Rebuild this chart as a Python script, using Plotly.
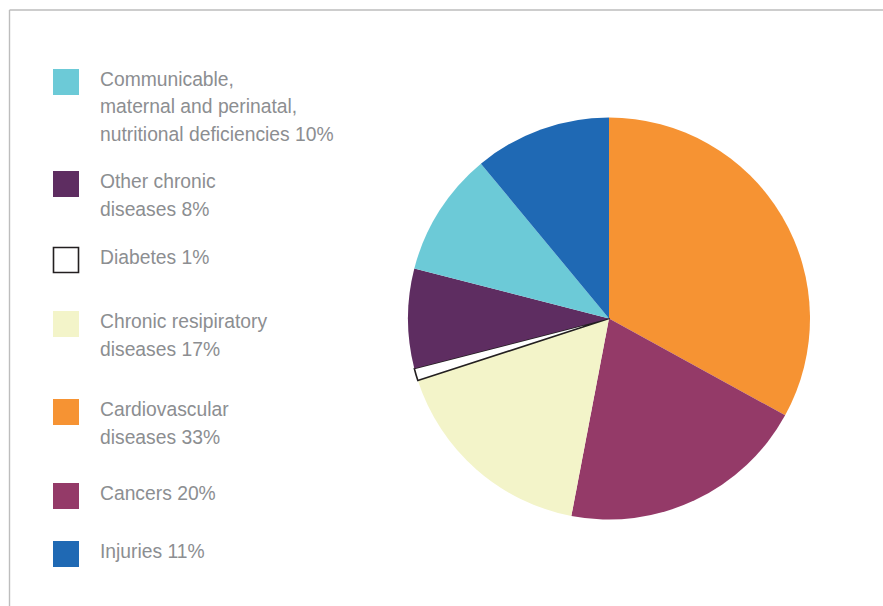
import plotly.graph_objects as go

# ---- data ----
categories = ["Cardiovascular diseases", "Cancers", "Chronic resipiratory diseases",
              "Diabetes", "Other chronic diseases",
              "Communicable, maternal and perinatal, nutritional deficiencies", "Injuries"]
values = [33, 20, 17, 1, 8, 10, 11]
colors = ["#F69333", "#943A68", "#F3F4C9", "#FFFFFF", "#5E2D61", "#6CCAD7", "#1F69B4"]

# legend text (wrapped) in the order shown on the left
legend_order = [5, 4, 3, 2, 0, 1, 6]
legend_lines = {
    0: ["Cardiovascular", "diseases"],
    1: ["Cancers"],
    2: ["Chronic resipiratory", "diseases"],
    3: ["Diabetes"],
    4: ["Other chronic", "diseases"],
    5: ["Communicable,", "maternal and perinatal,", "nutritional deficiencies"],
    6: ["Injuries"],
}

# ---- layout helpers ----
W, H = 883, 606
def px(x):
    return x / W
def py(y):
    return 1 - y / H

TEXT_COLOR = "#8C8E91"
FONT = "Helvetica Neue, Helvetica, Arial, Liberation Sans, sans-serif"

fig = go.Figure()
fig.add_trace(go.Pie(
    labels=categories, values=values, sort=False, direction="clockwise", rotation=0,
    marker=dict(colors=colors,
                line=dict(color="#231F20", width=[0, 0, 0, 1.6, 0, 0, 0])),
    textinfo="none", hoverinfo="label+percent", showlegend=False,
    domain=dict(x=[px(408), px(810)], y=[py(519.5), py(117.5)]),
))

shapes = []
annotations = []
# frame lines (top and left)
shapes.append(dict(type="line", xref="paper", yref="paper", x0=px(9.5), x1=px(W), y0=py(10), y1=py(10),
                   line=dict(color="#BDBDBD", width=1.4)))
shapes.append(dict(type="line", xref="paper", yref="paper", x0=px(9.5), x1=px(9.5), y0=py(10), y1=py(H),
                   line=dict(color="#BDBDBD", width=1.4)))

square_tops = [69, 171, 247, 311, 399, 483, 541]
LINE_GAP = 27.3
for k, idx in enumerate(legend_order):
    top = square_tops[k]
    is_white = colors[idx].upper() == "#FFFFFF"
    shapes.append(dict(type="rect", xref="paper", yref="paper",
                       x0=px(53.5 if is_white else 53), x1=px(78.5 if is_white else 79),
                       y0=py(top + 0.5 if is_white else top), y1=py(top + 25.5 if is_white else top + 26),
                       fillcolor=colors[idx],
                       line=dict(color="#231F20", width=1.6) if is_white else dict(width=0)))
    lines = list(legend_lines[idx])
    lines[-1] = lines[-1] + f" {values[idx]}%"
    for j, t in enumerate(lines):
        yc = top + 13 - 2.3 + j * LINE_GAP
        annotations.append(dict(xref="paper", yref="paper", x=px(97.5), y=py(yc),
                                xanchor="left", yanchor="middle", showarrow=False, text=t,
                                font=dict(family=FONT, size=19.3, color=TEXT_COLOR)))

fig.update_layout(
    width=W, height=H, margin=dict(l=0, r=0, t=0, b=0),
    paper_bgcolor="white", plot_bgcolor="white",
    shapes=shapes, annotations=annotations, showlegend=False,
)
fig.write_html("out.html")
